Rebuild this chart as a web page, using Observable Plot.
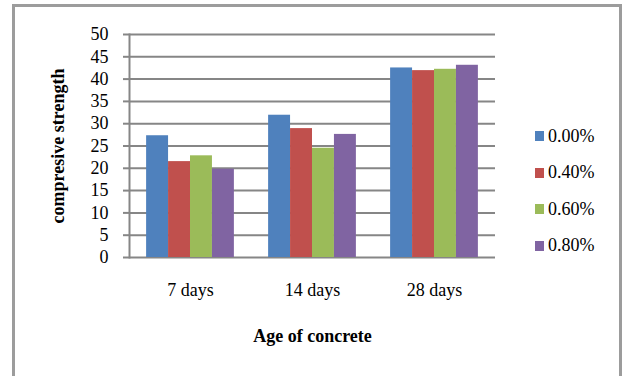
<!DOCTYPE html>
<html>
<head>
<meta charset="utf-8">
<script src="https://cdn.jsdelivr.net/npm/d3@7"></script>
<script src="https://cdn.jsdelivr.net/npm/@observablehq/plot@0.6"></script>
<style>
  html, body { margin: 0; padding: 0; background: #fff; width: 629px; height: 376px; overflow: hidden; }
  #wrap { position: relative; width: 629px; height: 376px; }
  #border { position: absolute; left: 12px; top: 4px; width: 604px; height: 420px; border: 3px solid #9c9c9c; box-sizing: content-box; }
  #chart { position: absolute; left: 0; top: 0; }
  #chart svg [aria-label="y-axis label"] text,
  #chart svg [aria-label="fx-axis label"] text { font-weight: bold; }
  #legend { position: absolute; left: 535px; top: 118px; font-family: "Liberation Serif", "Times New Roman", serif; font-size: 18px; color: #000; }
  #legend .row { display: flex; align-items: center; height: 36.5px; }
  #legend .sw { width: 9px; height: 10px; margin-right: 4px; }
</style>
</head>
<body>
<div id="wrap">
  <div id="border"></div>
  <div id="chart"></div>
  <div id="legend"></div>
</div>
<script>
const categories = ["7 days", "14 days", "28 days"];
const series = ["0.00%", "0.40%", "0.60%", "0.80%"];
const s000 = [27.3, 31.9, 42.5];
const s040 = [21.5, 28.9, 41.9];
const s060 = [22.8, 24.5, 42.2];
const s080 = [19.8, 27.6, 43.1];
const colors = ["#4F81BD", "#C0504D", "#9BBB59", "#8064A2"];
const yTicks = [0, 5, 10, 15, 20, 25, 30, 35, 40, 45, 50];
const yLabel = "compresive strength";
const xLabel = "Age of concrete";

const seriesValues = [s000, s040, s060, s080];
const data = categories.flatMap((c, i) =>
  series.map((s, j) => ({age: c, mix: s, value: seriesValues[j][i]}))
);

const grey = "#868686";

const chart = Plot.plot({
  width: 629,
  height: 376,
  marginLeft: 128,
  marginRight: 134,
  marginTop: 34,
  marginBottom: 119,
  style: {fontFamily: "'Liberation Serif', 'Times New Roman', serif", fontSize: "18px", color: "#000", background: "transparent", overflow: "visible"},
  fx: {domain: categories, padding: 0},
  x: {domain: series, paddingInner: 0, paddingOuter: 0.78, round: false, axis: null},
  y: {domain: [0, 50]},
  color: {domain: series, range: colors},
  marks: [
    Plot.gridY(yTicks, {stroke: grey, strokeOpacity: 1, strokeWidth: 2}),
    Plot.barY(data, {fx: "age", x: "mix", y: "value", fill: "mix"}),
    Plot.axisY(yTicks, {tickSize: 6, tickPadding: 15, stroke: grey, strokeWidth: 2, strokeOpacity: 1,
      label: yLabel, labelArrow: "none", labelAnchor: "center", labelOffset: 78, tickFormat: d => String(d)}),
    Plot.axisFx({anchor: "bottom", tickSize: 0, tickPadding: 26, label: xLabel, labelArrow: "none", labelAnchor: "center", labelOffset: 84}),
    Plot.frame({anchor: "left", facetAnchor: "left", stroke: grey, strokeWidth: 2})
  ]
});
document.getElementById("chart").appendChild(chart);

const colorScale = chart.scale("color");
const legend = document.getElementById("legend");
for (const s of series) {
  const row = document.createElement("div");
  row.className = "row";
  const sw = document.createElement("div");
  sw.className = "sw";
  sw.style.background = colorScale.apply(s);
  const t = document.createElement("span");
  t.textContent = s;
  row.appendChild(sw);
  row.appendChild(t);
  legend.appendChild(row);
}
</script>
</body>
</html>
